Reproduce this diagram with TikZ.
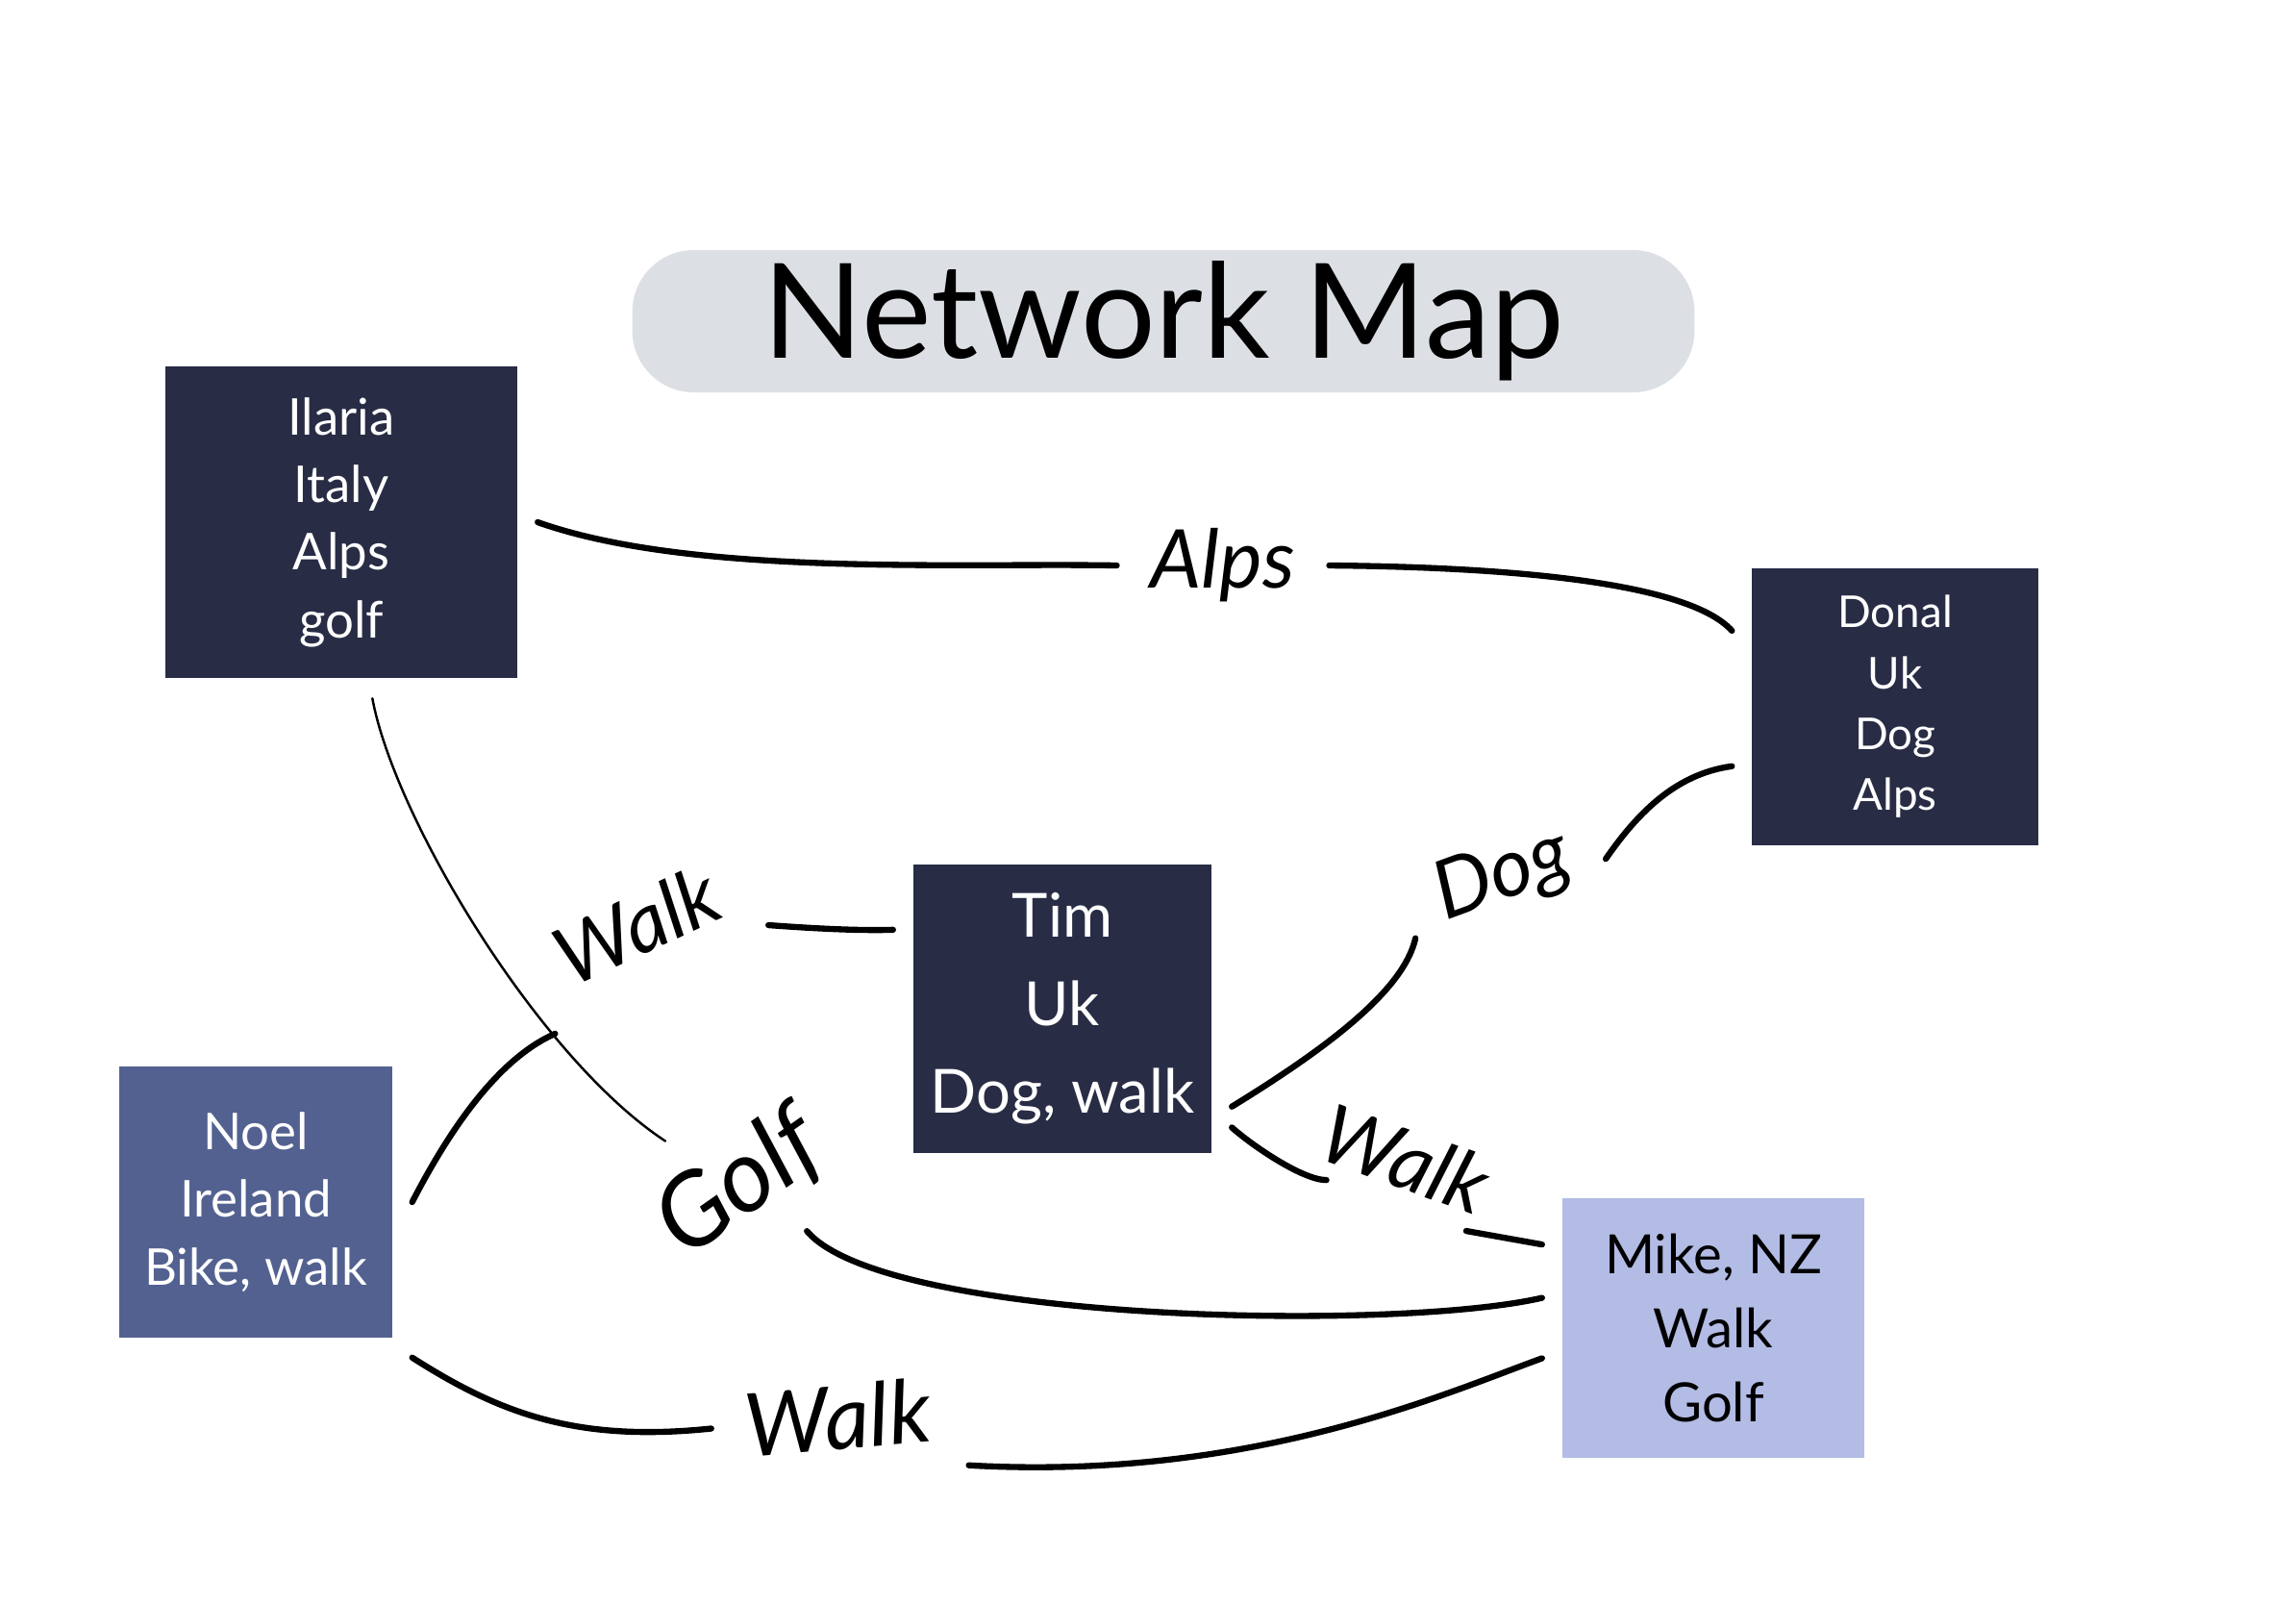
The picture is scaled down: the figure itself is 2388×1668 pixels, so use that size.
\documentclass[tikz,border=0pt]{standalone}
\usepackage{fontspec}
\setmainfont{Lato}
\usetikzlibrary{positioning}

\definecolor{navy}{HTML}{282C45}
\definecolor{slate}{HTML}{536190}
\definecolor{lilac}{HTML}{B2BCE4}
\definecolor{pill}{HTML}{DCDFE3}

\begin{document}
\begin{tikzpicture}[x=0.01cm, y=-0.01cm,
  person/.style={fill=navy, text=white, align=center, inner sep=0pt, outer sep=6pt,
    font=\fontsize{15}{20}\selectfont},
  titlepill/.style={fill=pill, rounded corners=0.64cm, minimum width=11.04cm,
    minimum height=1.29cm, font=\fontsize{39}{44}\selectfont},
  tag/.style={font=\fontsize{24}{26}\selectfont\itshape, inner sep=3pt, outer sep=7pt},
  link/.style={line width=1.8pt, line cap=round},
  thinlink/.style={line width=0.7pt, line cap=round}]
\useasboundingbox[fill=white] (0,0) rectangle (2388,1668);

% title
\node[titlepill] (title) at (1210,334) {Network Map};

% people
\node[person, minimum width=3.66cm, minimum height=3.24cm] (ilaria) at (355,543)
  {Ilaria\\Italy\\Alps\\golf};
\node[person, minimum width=2.97cm, minimum height=2.88cm,
  font=\fontsize{13}{18}\selectfont] (donal) at (1971,735) {Donal\\Uk\\Dog\\Alps};
\node[person, minimum width=3.10cm, minimum height=3.00cm,
  font=\fontsize{18}{26}\selectfont] (tim) at (1105,1049) {Tim\\Uk\\Dog, walk};
\node[person, fill=slate, minimum width=2.83cm, minimum height=2.81cm] (noel)
  at (266,1250) {Noel\\Ireland\\Bike, walk};
\node[person, fill=lilac, text=black, minimum width=3.14cm, minimum height=2.70cm,
  font=\fontsize{16}{22}\selectfont] (mike) at (1782,1381) {Mike, NZ\\Walk\\Golf};

% shared interests
\node[tag] (lAlps) at (1272,588) {Alps};
\node[tag, font=\fontsize{30}{32}\selectfont\itshape, rotate=35] (lGolf) at (769,1231) {Golf};
\node[tag, rotate=25] (lWalkA) at (662,962) {Walk};
\node[tag, rotate=20] (lDog) at (1563,912) {Dog};
\node[tag, rotate=-20, outer sep=2pt] (lWalkB) at (1462,1205) {Walk};
\node[tag, font=\fontsize{26}{28}\selectfont\itshape, rotate=5] (lWalkC) at (871,1474) {Walk};

% links
\draw[link] (ilaria.east) .. controls (720,600) and (1000,585) .. (lAlps.west);
\draw[link] (lAlps.east) .. controls (1600,590) and (1760,610) .. (donal.155);
\draw[thinlink] (ilaria.-80) .. controls (410,850) and (560,1100) .. (lGolf.115);
\draw[link] (lGolf.-70) .. controls (920,1375) and (1450,1385) .. (mike.170);
\draw[link] (noel.east) .. controls (470,1170) and (520,1100) .. (lWalkA.south west);
\draw[link] (lWalkA.-25) .. controls (840,965) and (890,968) .. (tim.155);
\draw[link] (tim.-30) .. controls (1380,1090) and (1460,1030) .. (lDog.195);
\draw[link] (lDog.-10) .. controls (1700,850) and (1740,805) .. (donal.200);
\draw[link] (tim.-35) .. controls +(20,18) and +(-25,0) .. (lWalkB.215);
\draw[link] (lWalkB.-30) -- (mike.154);
\draw[link] (noel.south east) .. controls (520,1470) and (600,1500) .. (lWalkC.west);
\draw[link] (lWalkC.-25) .. controls (1300,1540) and (1500,1450) .. (mike.190);
\end{tikzpicture}
\end{document}
